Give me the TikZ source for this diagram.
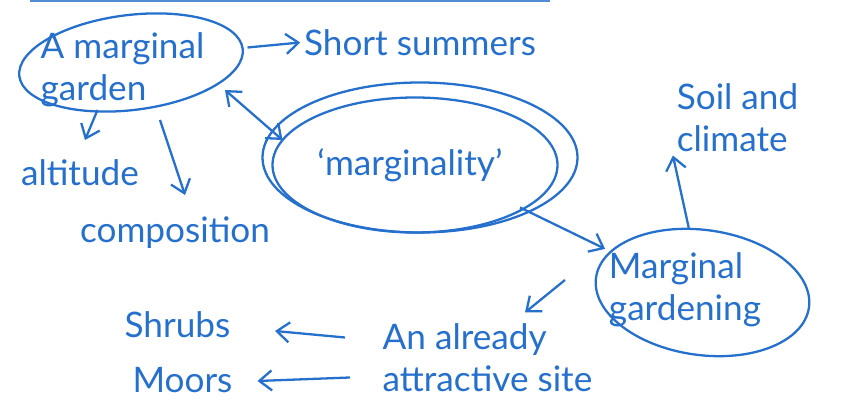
\documentclass[tikz,border=0pt]{standalone}
\usepackage{fontspec}
\setmainfont{Lato}
\usetikzlibrary{arrows.meta,positioning,shapes.geometric}
\definecolor{ink}{RGB}{38,112,205}
\tikzset{%
	idea/.style   = {draw=ink, ellipse, line width=1.3pt, text=ink, align=left, inner sep=0pt}, % circled idea
	note/.style   = {text=ink, align=left, inner sep=2pt}, % plain note
	arrow/.style  = {ink, line width=1.3pt, -{Straight Barb[length=2.5mm,width=4mm]}},
	twoway/.style = {ink, line width=1.3pt, {Straight Barb[length=2.5mm,width=4mm]}-{Straight Barb[length=2.5mm,width=4mm]}},
}

\begin{document}
\begin{tikzpicture}[font=\fontsize{20}{24}\selectfont]
		\useasboundingbox (0,0) rectangle (16.82,-8.06);
		\draw[ink!80, line width=1.5pt] (0.6,-0.02) -- (11,-0.02);
		\node [idea, minimum width=4.5cm, minimum height=1.9cm, rotate=7] (G) at (2.62,-1.25) {};
		\node [note] (GT) at (2.45,-1.4) {A marginal\\garden};
		\node [idea, minimum width=6.3cm, minimum height=3.0cm] (M) at (8.4,-3.15) {};
		\draw [ink, line width=1.3pt] (8.3,-3.3) ellipse [x radius=2.85, y radius=1.35];
		\node [note] (MT) at (8.2,-3.3) {‘marginality’};
		\node [idea, minimum width=4.3cm, minimum height=2.5cm, rotate=-8] (P) at (14.05,-5.85) {};
		\node [note] (PT) at (13.7,-5.8) {Marginal\\gardening};
		\node [note] (S) at (8.4,-0.85) {Short summers};
		\node [note] (A) at (1.6,-3.45) {altitude};
		\node [note] (C) at (3.5,-4.65) {composition};
		\node [note] (K) at (14.75,-2.35) {Soil and\\climate};
		\node [note] (X) at (9.75,-7.15) {An already\\attractive site};
		\node [note] (H) at (3.55,-6.5) {Shrubs};
		\node [note] (O) at (3.65,-7.6) {Moors};
		\coordinate (a1) at (1.7,-2.8);
		\coordinate (c1) at (3.7,-3.9);
		\coordinate (m1) at (5.65,-2.8);
		\coordinate (x1) at (10.5,-6.25);
		\coordinate (h1) at (5.5,-6.62);
		\coordinate (o1) at (5.15,-7.62);
		\draw[arrow] (4.95,-0.95) -- (S.west);
		\draw[arrow] (1.95,-2.2) -- (a1);
		\draw[arrow] (3.2,-2.4) -- (c1);
		\draw[twoway] (4.5,-1.8) -- (m1);
		\draw[arrow] (10.4,-4.15) -- (PT.north west);
		\draw[arrow] (P.110) -- (K.south west);
		\draw[arrow] (11.3,-5.6) -- (x1);
		\draw[arrow] (6.9,-6.75) -- (h1);
		\draw[arrow] (7.0,-7.55) -- (o1);
	\end{tikzpicture}
\end{document}
